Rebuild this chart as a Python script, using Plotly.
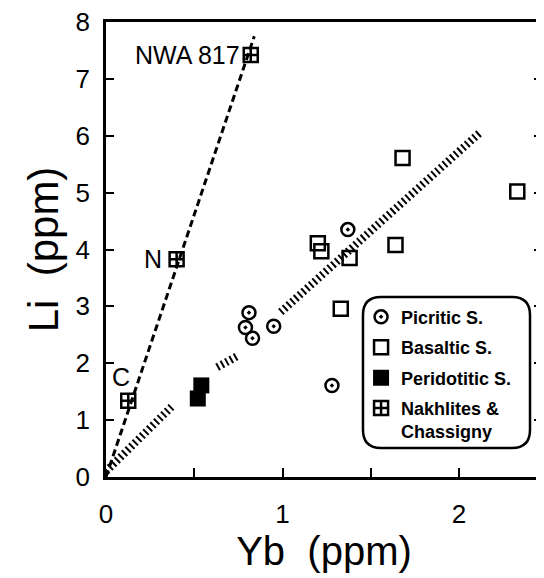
import plotly.graph_objects as go

# Li vs Yb (ppm)
picritic_yb = [0.81, 0.79, 0.83, 0.95, 1.28, 1.37]
picritic_li = [2.89, 2.63, 2.44, 2.65, 1.61, 4.35]

basaltic_yb = [1.68, 2.33, 1.20, 1.22, 1.38, 1.64, 1.33]
basaltic_li = [5.61, 5.02, 4.11, 3.97, 3.85, 4.08, 2.96]

peridotitic_yb = [0.54, 0.52]
peridotitic_li = [1.61, 1.38]

nakhlite_yb = [0.82, 0.40, 0.126]
nakhlite_li = [7.42, 3.83, 1.34]
nakhlite_names = ["NWA 817", "N", "C"]

# trend lines (broken where they pass behind the symbols)
nakh_line_yb = [0.0, 0.84]
nakh_line_li = [0.0, 7.75]
trend_yb = [0.0, 0.38, None, 0.63, 0.74, None, 0.99, 2.12]
trend_li = [0.1, 1.26, None, 1.93, 2.12, None, 2.90, 6.06]

FONT = "Liberation Sans, Arial, Helvetica, sans-serif"

fig = go.Figure()

fig.add_trace(go.Scatter(x=nakh_line_yb, y=nakh_line_li, mode="lines", showlegend=False,
                         line=dict(color="black", width=3, dash="7px,4px"), hoverinfo="skip"))
fig.add_trace(go.Scatter(x=trend_yb, y=trend_li, mode="lines", showlegend=False,
                         line=dict(color="black", width=8, dash="2px,3px"), hoverinfo="skip"))

fig.add_trace(go.Scatter(x=picritic_yb, y=picritic_li, mode="markers", name="Picritic S.",
                         legendgroup="a",
                         marker=dict(symbol="circle-open-dot", size=13, color="black",
                                     line=dict(width=2.5, color="black"))))
fig.add_trace(go.Scatter(x=basaltic_yb, y=basaltic_li, mode="markers", name="Basaltic S.",
                         legendgroup="b",
                         marker=dict(symbol="square-open", size=14, color="black",
                                     line=dict(width=2.5, color="black"))))
fig.add_trace(go.Scatter(x=peridotitic_yb, y=peridotitic_li, mode="markers", name="Peridotitic S.",
                         legendgroup="c",
                         marker=dict(symbol="square", size=16, color="black",
                                     line=dict(width=0, color="black"))))
fig.add_trace(go.Scatter(x=nakhlite_yb, y=nakhlite_li, mode="markers",
                         name="Nakhlites &<br>Chassigny", legendgroup="d",
                         marker=dict(symbol="square-cross-open", size=14, color="black",
                                     line=dict(width=2.5, color="black"))))

# sample labels
fig.add_annotation(x=nakhlite_yb[0], y=nakhlite_li[0], text=nakhlite_names[0], showarrow=False,
                   xanchor="right", xshift=-9, font=dict(size=25, family=FONT, color="black"))
fig.add_annotation(x=nakhlite_yb[1], y=nakhlite_li[1], text=nakhlite_names[1], showarrow=False,
                   xanchor="right", xshift=-13, font=dict(size=25, family=FONT, color="black"))
fig.add_annotation(x=nakhlite_yb[2], y=nakhlite_li[2], text=nakhlite_names[2], showarrow=False,
                   xshift=-7, yshift=24, font=dict(size=25, family=FONT, color="black"))

# rounded legend frame
x0, x1, y0, y1 = 0.5894, 0.9725, 0.0637, 0.3956
rx, ry = 0.041, 0.040
path = (f"M {x0+rx},{y1} L {x1-rx},{y1} Q {x1},{y1} {x1},{y1-ry} L {x1},{y0+ry} "
        f"Q {x1},{y0} {x1-rx},{y0} L {x0+rx},{y0} Q {x0},{y0} {x0},{y0+ry} "
        f"L {x0},{y1-ry} Q {x0},{y1} {x0+rx},{y1} Z")
fig.add_shape(type="path", path=path, xref="paper", yref="paper",
              line=dict(color="black", width=2.5), fillcolor="white", layer="below")

# the page body adds an 8px offset, so the figure is 8px smaller
fig.update_layout(
    width=536, height=570,
    margin=dict(l=98, r=2, t=14, b=101),
    paper_bgcolor="white", plot_bgcolor="white",
    font=dict(family=FONT, color="black"),
    showlegend=True,
    legend=dict(x=0.585, y=0.392, xanchor="left", yanchor="top",
                bgcolor="rgba(0,0,0,0)", borderwidth=0, tracegroupgap=4,
                valign="top", itemsizing="trace", itemwidth=30,
                font=dict(size=18, family=FONT, color="black", weight="bold")),
    xaxis=dict(range=[0, 2.47], tickvals=[0, 0.5, 1, 1.5, 2], ticktext=["0", "", "1", "", "2"],
               ticks="inside", ticklen=9, tickwidth=2, tickcolor="black",
               showline=True, linewidth=2.5, linecolor="black", mirror=True,
               showgrid=False, zeroline=False, ticklabelstandoff=12, automargin=False,
               ticklabeloverflow="allow",
               tickfont=dict(size=26, family=FONT),
               title=dict(text="Yb  (ppm)", font=dict(size=40, family=FONT), standoff=0)),
    yaxis=dict(range=[0, 8], dtick=1,
               ticks="inside", ticklen=8, tickwidth=2, tickcolor="black",
               showline=True, linewidth=2.5, linecolor="black", mirror="ticks",
               showgrid=False, zeroline=False, ticklabelstandoff=8, automargin=False,
               ticklabeloverflow="allow",
               tickfont=dict(size=26, family=FONT),
               title=dict(text="Li  (ppm)", font=dict(size=42, family=FONT), standoff=4)),
)

fig.write_html("out.html")
